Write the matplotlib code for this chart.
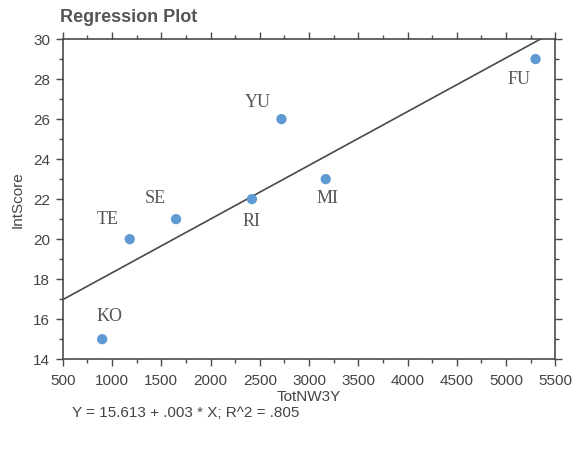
import numpy as np
from matplotlib import pyplot as plt
from matplotlib.ticker import MultipleLocator

# data
names = ['KO', 'TE', 'SE', 'RI', 'YU', 'MI', 'FU']
tot_nw3y = [900, 1180, 1650, 2420, 2720, 3170, 5300]
int_score = [15, 20, 21, 22, 26, 23, 29]
equation = 'Y = 15.613 + .003 * X; R^2 = .805'

# label offsets (points) for each name
label_offsets = [(5, 16), (-16, 14), (-15, 15), (0, -16), (-17, 12), (1, -14), (-12, -15)]

grey = '#4a4a4a'
plt.rcParams['font.family'] = ['Liberation Sans', 'DejaVu Sans']

fig = plt.figure(figsize=(5.76, 4.49), dpi=100)
ax = fig.add_axes([0.109, 0.2, 0.855, 0.713])

slope, intercept = np.polyfit(tot_nw3y, int_score, 1)
xs = np.array([500, 5500])
ax.plot(xs, intercept + slope * xs, color=grey, lw=1.2)

ax.scatter(tot_nw3y, int_score, s=55, color='#5f9ad2', zorder=3, edgecolors='none')

for name, x, y, off in zip(names, tot_nw3y, int_score, label_offsets):
    ax.annotate(name, (x, y), xytext=off, textcoords='offset points',
                ha='center', va='center', family='Liberation Serif',
                fontsize=13, color='#555555')

ax.set_xlim(500, 5500)
ax.set_ylim(14, 30)
ax.xaxis.set_major_locator(MultipleLocator(500))
ax.xaxis.set_minor_locator(MultipleLocator(250))
ax.yaxis.set_major_locator(MultipleLocator(2))
ax.yaxis.set_minor_locator(MultipleLocator(1))
ax.tick_params(which='both', direction='out', top=True, right=True,
               labeltop=False, labelright=False, color=grey, labelcolor='#444444')
ax.tick_params(which='major', length=5, width=1, labelsize=11, pad=4)
ax.tick_params(axis='x', which='major', pad=6)
ax.tick_params(which='minor', length=3, width=1)
for sp in ax.spines.values():
    sp.set_color(grey)
    sp.set_linewidth(1.2)

ax.set_xlabel('TotNW3Y', fontsize=11, color='#444444', labelpad=1)
ax.set_ylabel('IntScore', fontsize=11, color='#444444', labelpad=6)
fig.text(0.104, 0.962, 'Regression Plot', fontsize=13, fontweight='bold',
         color='#555555', va='center')
fig.text(0.125, 0.08, equation, fontsize=11, color='#444444', va='center')

fig.savefig('out.png', dpi=100)
